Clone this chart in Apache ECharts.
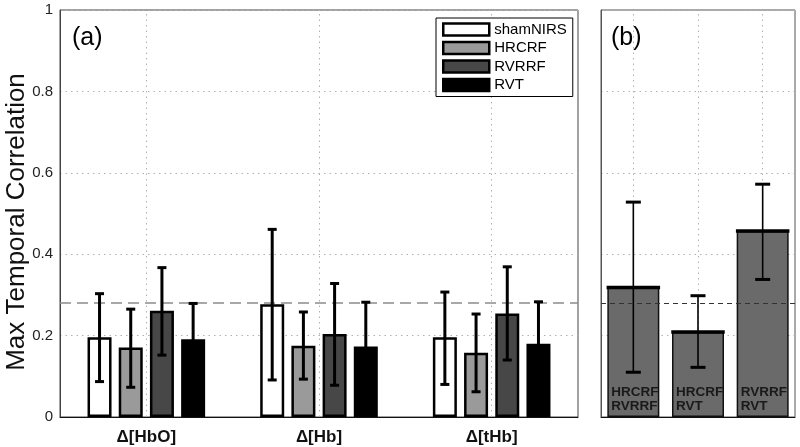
<!DOCTYPE html>
<html><head><meta charset="utf-8">
<script src="https://cdn.jsdelivr.net/npm/echarts@6/dist/echarts.min.js"></script>
<style>html,body{margin:0;padding:0;background:#fff}#c{width:800px;height:447px}</style>
</head><body><div id="c"></div>
<script>
// ---- data ----
const categoriesA = ['Δ[HbO]', 'Δ[Hb]', 'Δ[tHb]'];
const seriesNames = ['shamNIRS', 'HRCRF', 'RVRRF', 'RVT'];
const shamNIRS = [0.196, 0.277, 0.196];
const shamNIRSLow = [0.087, 0.091, 0.080];
const shamNIRSHigh = [0.303, 0.461, 0.307];
const hrcrf = [0.171, 0.175, 0.158];
const hrcrfLow = [0.073, 0.093, 0.062];
const hrcrfHigh = [0.265, 0.258, 0.253];
const rvrrf = [0.261, 0.204, 0.254];
const rvrrfLow = [0.152, 0.078, 0.140];
const rvrrfHigh = [0.367, 0.328, 0.369];
const rvt = [0.191, 0.173, 0.180];
const rvtLow = [0.103, 0.064, 0.077];
const rvtHigh = [0.279, 0.282, 0.283];

const categoriesB = ['HRCRF\nRVRRF', 'HRCRF\nRVT', 'RVRRF\nRVT'];
const pairValues = [0.318, 0.209, 0.457];
const pairLow = [0.110, 0.122, 0.338];
const pairHigh = [0.528, 0.298, 0.572];

const refValue = 0.28;
const yTicks = [0, 0.2, 0.4, 0.6, 0.8, 1];

// ---- styles ----
const FONT = "'Liberation Sans', Arial, Helvetica, sans-serif";
const fills = ['#ffffff', '#9a9a9a', '#474747', '#000000'];
const BAR_W = 24, GAP = 0.3, STEP = BAR_W * (1 + GAP);
const BAR_W_B = 52;

const valsA = [shamNIRS, hrcrf, rvrrf, rvt];
const lowA = [shamNIRSLow, hrcrfLow, rvrrfLow, rvtLow];
const highA = [shamNIRSHigh, hrcrfHigh, rvrrfHigh, rvtHigh];

function errRenderA(k) {
  return function (params, api) {
    const lo = api.coord([api.value(0), api.value(1)]);
    const hi = api.coord([api.value(0), api.value(2)]);
    const x = lo[0] + (k - 1.5) * STEP;
    const cw = 4.5;
    const st = { stroke: '#000', lineWidth: 3 };
    return { type: 'group', children: [
      { type: 'line', shape: { x1: x, y1: lo[1], x2: x, y2: hi[1] }, style: st },
      { type: 'line', shape: { x1: x - cw, y1: hi[1], x2: x + cw, y2: hi[1] }, style: st },
      { type: 'line', shape: { x1: x - cw, y1: lo[1], x2: x + cw, y2: lo[1] }, style: st }
    ]};
  };
}
function errRenderB(params, api) {
  const lo = api.coord([api.value(0), api.value(1)]);
  const hi = api.coord([api.value(0), api.value(2)]);
  const top = api.coord([api.value(0), api.value(3)]);
  const x = lo[0];
  const cw = 7.5;
  const st = { stroke: '#000', lineWidth: 3 };
  const st2 = { stroke: '#000', lineWidth: 1.6 };
  const hw = BAR_W_B / 2 + 0.75;
  return { type: 'group', children: [
    { type: 'line', shape: { x1: x - hw, y1: top[1], x2: x + hw, y2: top[1] }, style: { stroke: '#000', lineWidth: 3.5 } },
    { type: 'line', shape: { x1: x, y1: lo[1], x2: x, y2: hi[1] }, style: st2 },
    { type: 'line', shape: { x1: x - cw, y1: hi[1], x2: x + cw, y2: hi[1] }, style: st },
    { type: 'line', shape: { x1: x - cw, y1: lo[1], x2: x + cw, y2: lo[1] }, style: st }
  ]};
}

const dotted = { color: '#b0b0b0', type: [1.5, 4], width: 1 };

const series = [];
series.push({
  type: 'line', xAxisIndex: 0, yAxisIndex: 0, data: [], z: 1, silent: true,
  markLine: { symbol: 'none', silent: true, label: { show: false }, animation: false, z: 1,
    data: categoriesA.map(c => ({ xAxis: c, lineStyle: dotted })).concat([
      { yAxis: refValue, lineStyle: { color: '#8c8c8c', type: [11, 6], width: 1.6 } }
    ]) }
});
series.push({
  type: 'line', xAxisIndex: 1, yAxisIndex: 1, data: [], z: 1, silent: true,
  markLine: { symbol: 'none', silent: true, label: { show: false }, animation: false, z: 1,
    data: categoriesB.map(c => ({ xAxis: c, lineStyle: dotted })) }
});
seriesNames.forEach((n, k) => {
  series.push({
    name: n, type: 'bar', xAxisIndex: 0, yAxisIndex: 0, z: 2,
    barWidth: BAR_W, barGap: (GAP * 100) + '%',
    data: valsA[k],
    itemStyle: { color: fills[k], borderColor: '#000', borderWidth: 2.5 }
  });
});
seriesNames.forEach((n, k) => {
  series.push({
    type: 'custom', xAxisIndex: 0, yAxisIndex: 0, z: 3,
    renderItem: errRenderA(k),
    encode: { x: 0, y: [1, 2] },
    data: categoriesA.map((c, i) => [i, lowA[k][i], highA[k][i]])
  });
});
series.push({
  type: 'bar', xAxisIndex: 1, yAxisIndex: 1, z: 2, barWidth: BAR_W_B,
  data: pairValues,
  itemStyle: { color: '#6a6a6a', borderColor: '#111', borderWidth: 1.5 },
  label: { show: true, position: 'insideBottomLeft', distance: 4, formatter: p => p.name,
    color: '#1a1a1a', fontFamily: FONT, fontWeight: 'bold', fontSize: 13.5, lineHeight: 13.5, align: 'left' }
});
series.push({
  type: 'custom', xAxisIndex: 1, yAxisIndex: 1, z: 4,
  renderItem: errRenderB,
  encode: { x: 0, y: [1, 2] },
  data: categoriesB.map((c, i) => [i, pairLow[i], pairHigh[i], pairValues[i]])
});
series.push({
  type: 'line', xAxisIndex: 1, yAxisIndex: 1, data: [], z: 5, silent: true,
  markLine: { symbol: 'none', silent: true, label: { show: false }, animation: false, z: 10,
    data: [{ yAxis: refValue, lineStyle: { color: '#333', type: [5, 4], width: 1.2 } }] }
});

const option = {
  animation: false,
  textStyle: { fontFamily: FONT },
  grid: [
    { left: 60, right: 222, top: 10, bottom: 30, show: true, borderColor: '#444', borderWidth: 1, outerBoundsMode: 'none', containLabel: false },
    { left: 601, right: 5, top: 10, bottom: 30, show: true, borderColor: '#555', borderWidth: 1, outerBoundsMode: 'none', containLabel: false }
  ],
  legend: {
    data: seriesNames, orient: 'vertical', left: 436, top: 18,
    icon: 'rect', itemWidth: 46, itemHeight: 12, itemGap: 3.5,
    padding: [4, 6, 4, 6], borderColor: '#000', borderWidth: 1, backgroundColor: '#fff',
    itemStyle: { borderColor: '#000', borderWidth: 2.5 },
    textStyle: { fontSize: 15, color: '#000', fontFamily: FONT, lineHeight: 15 }
  },
  xAxis: [
    { type: 'category', gridIndex: 0, data: categoriesA,
      axisLine: { lineStyle: { color: '#111' } },
      axisTick: { inside: true, alignWithLabel: true, length: 4, lineStyle: { color: '#333' } },
      axisLabel: { fontSize: 17, fontWeight: 'bold', color: '#111', margin: 12, fontFamily: FONT },
      splitLine: { show: false } },
    { type: 'category', gridIndex: 1, data: categoriesB,
      axisLine: { lineStyle: { color: '#111' } },
      axisTick: { show: false }, axisLabel: { show: false }, splitLine: { show: false } }
  ],
  yAxis: [
    { type: 'value', gridIndex: 0, min: 0, max: 1, interval: 0.2,
      axisLine: { show: true, lineStyle: { color: '#444' } },
      axisTick: { inside: true, length: 4, lineStyle: { color: '#444' } },
      axisLabel: { fontSize: 15, color: '#222', margin: 7, fontFamily: FONT,
        formatter: v => (yTicks.indexOf(Math.round(v * 10) / 10) >= 0 ? String(Math.round(v * 10) / 10) : '') },
      splitLine: { show: true, lineStyle: dotted } },
    { type: 'value', gridIndex: 1, min: 0, max: 1, interval: 0.2,
      axisLine: { show: true, lineStyle: { color: '#555' } },
      axisTick: { show: false }, axisLabel: { show: false },
      splitLine: { show: true, lineStyle: dotted } }
  ],
  graphic: [
    { type: 'text', x: 17, y: 222, rotation: Math.PI / 2,
      style: { text: 'Max Temporal Correlation', fontSize: 26, fill: '#111', fontFamily: FONT, align: 'center', verticalAlign: 'middle' } },
    { type: 'text', left: 72, top: 26, style: { text: '(a)', fontSize: 25, fill: '#000', fontFamily: FONT } },
    { type: 'text', left: 611, top: 26, style: { text: '(b)', fontSize: 25, fill: '#000', fontFamily: FONT } }
  ],
  series: series
};
const chart = echarts.init(document.getElementById('c'), null, { renderer: 'canvas' });
chart.setOption(option);
</script>
</body></html>
